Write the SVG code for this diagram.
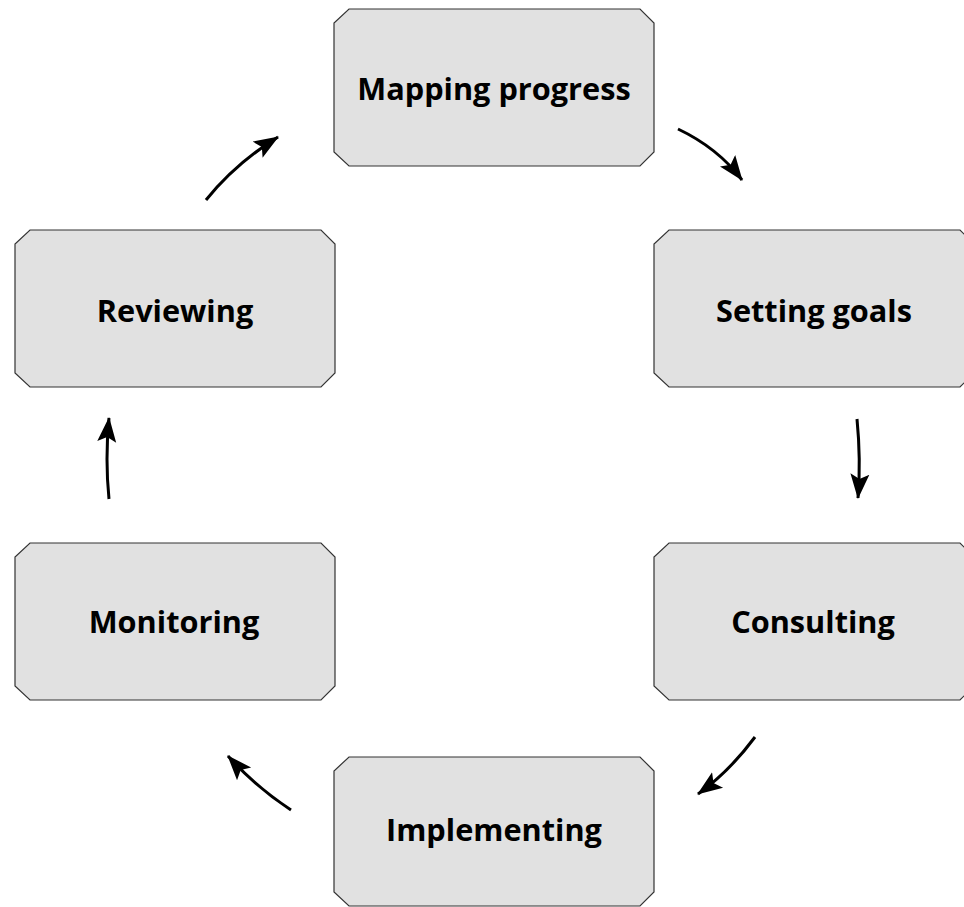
<svg xmlns="http://www.w3.org/2000/svg" width="964" height="907" viewBox="0 0 964 907">
<style>
.node polygon { fill: #e1e1e1; stroke: #333333; stroke-width: 1.2; }
.node text { font-family: "Open Sans", "Liberation Sans", sans-serif; font-weight: 700; font-size: 30.7px; fill: #000000; text-anchor: middle; }
.conn path { fill: none; stroke: #000000; stroke-width: 3; marker-end: url(#arrow); }
</style>
<defs>
<marker id="arrow" markerUnits="userSpaceOnUse" markerWidth="26" markerHeight="22" viewBox="0 0 26 22" refX="24" refY="11" orient="auto">
<path d="M0,1.5 L25,11 L0,20.5 L5,11 Z" fill="#000000"/>
</marker>
</defs>
<rect width="964" height="907" fill="#ffffff"/>
<g id="node-mapping" class="node">
<polygon points="349,9 640,9 654,23 654,152 640,166 349,166 334,152 334,23"/>
<text x="494" y="99.5">Mapping progress</text>
</g>
<g id="node-setting" class="node">
<polygon points="669,230 960,230 974,244 974,373 960,387 669,387 654,373 654,244"/>
<text x="814" y="322">Setting goals</text>
</g>
<g id="node-reviewing" class="node">
<polygon points="30,230 321,230 335,244 335,373 321,387 30,387 15,373 15,244"/>
<text x="175" y="322">Reviewing</text>
</g>
<g id="node-monitoring" class="node">
<polygon points="30,543 321,543 335,557 335,686 321,700 30,700 15,686 15,557"/>
<text x="174" y="633">Monitoring</text>
</g>
<g id="node-consulting" class="node">
<polygon points="669,543 960,543 974,557 974,686 960,700 669,700 654,686 654,557"/>
<text x="813" y="633">Consulting</text>
</g>
<g id="node-implementing" class="node">
<polygon points="349,757 640,757 654,771 654,892 640,906 349,906 334,892 334,771"/>
<text x="494" y="841">Implementing</text>
</g>
<g id="connectors" class="conn">
<path d="M206,200 Q236,163 278,137"/>
<path d="M678,129 Q718,148 742,180"/>
<path d="M857,419 Q861,460 858,498"/>
<path d="M755,737 Q729,772 698,794"/>
<path d="M291,810 Q256,787 228,756"/>
<path d="M109,499 Q105,460 109,418"/>
</g>
</svg>
